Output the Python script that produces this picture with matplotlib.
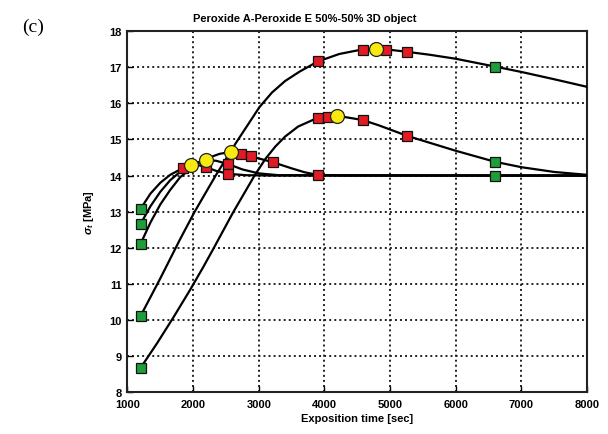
import matplotlib
matplotlib.use("Agg")
import matplotlib.pyplot as plt

# ---- data ----
# curve B: starts 10.1, peak ~17.5
b_x = [1200, 1500, 1797, 2024, 2343, 2650, 3011, 3200, 3400, 3620, 3896, 4225, 4503, 4785,
       4937, 5261, 5600, 5995, 6602, 7006, 7500, 8000]
b_y = [10.11, 11.15, 12.22, 13.0, 14.0, 14.9, 15.9, 16.3, 16.62, 16.88, 17.16, 17.37, 17.47, 17.51,
       17.5, 17.43, 17.35, 17.24, 17.02, 16.87, 16.67, 16.46]
# curve A: starts 8.67, peak ~15.65
a_x = [1200, 1450, 1700, 1950, 2150, 2302, 2606, 2935, 3100, 3250, 3400, 3600, 3896, 4186,
       4582, 4832, 5261, 5995, 6602, 7006, 7500, 8000]
a_y = [8.67, 9.35, 10.07, 10.82, 11.45, 11.95, 12.97, 14.0, 14.46, 14.8, 15.08, 15.36, 15.6, 15.66,
       15.54, 15.39, 15.1, 14.69, 14.38, 14.23, 14.1, 14.02]
# curve C: starts 13.08, peak ~14.29
c_x = [1200, 1350, 1500, 1650, 1847, 1970, 2100, 2201, 2350, 2530, 2800, 3200, 8000]
c_y = [13.08, 13.5, 13.8, 14.02, 14.21, 14.29, 14.28, 14.23, 14.13, 14.05, 14.01, 14.0, 14.0]
# curve D: starts 12.66, peak ~14.43
d_x = [1200, 1350, 1500, 1650, 1800, 2000, 2197, 2350, 2530, 2750, 3000, 3300, 8000]
d_y = [12.66, 13.15, 13.55, 13.87, 14.1, 14.33, 14.43, 14.41, 14.32, 14.17, 14.06, 14.01, 14.0]
# curve E: starts 12.11, peak ~14.66
e_x = [1200, 1350, 1500, 1650, 1800, 2000, 2200, 2400, 2578, 2733, 2885, 3050, 3213,
       3500, 3700, 3896, 4300, 8000]
e_y = [12.11, 12.7, 13.2, 13.6, 13.95, 14.25, 14.47, 14.6, 14.66, 14.61, 14.53, 14.45, 14.37,
       14.2, 14.09, 14.02, 14.0, 14.0]

green_x = [1200, 1200, 1200, 1200, 1200, 6602, 6602, 6602]
green_y = [13.08, 12.66, 12.11, 10.11, 8.67, 17.02, 14.38, 14.0]

red_x = [3896, 4582, 4937, 5261, 3896, 4047, 4582, 5261, 2733, 2885, 3213, 3896,
         2530, 1847, 2201, 2530]
red_y = [17.17, 17.48, 17.49, 17.43, 15.6, 15.62, 15.54, 15.1, 14.61, 14.53, 14.37, 14.02,
         14.32, 14.21, 14.23, 14.05]

yellow_x = [1970, 2197, 2578, 4186, 4785]
yellow_y = [14.29, 14.43, 14.66, 15.66, 17.51]

x_ticks = [1000, 2000, 3000, 4000, 5000, 6000, 7000, 8000]
y_ticks = [8, 9, 10, 11, 12, 13, 14, 15, 16, 17, 18]

title = "Peroxide A-Peroxide E 50%-50% 3D object"
xlabel = "Exposition time [sec]"
ylabel = r"$\sigma_t$ [MPa]"
panel = "(c)"

# ---- plotting ----
plt.rcParams["font.family"] = ["Liberation Sans", "DejaVu Sans"]
plt.rcParams["mathtext.fontset"] = "custom"
plt.rcParams["mathtext.it"] = "Liberation Sans:bold:italic"
plt.rcParams["mathtext.rm"] = "Liberation Sans:bold"

fig = plt.figure(figsize=(6.08, 4.35), dpi=100)
ax = fig.add_axes([0.2097, 0.0966, 0.7558, 0.8292])

for xs, ys in [(b_x, b_y), (a_x, a_y), (c_x, c_y), (d_x, d_y), (e_x, e_y)]:
    ax.plot(xs, ys, color="black", lw=1.6, zorder=3, solid_joinstyle="round")

ax.plot(green_x, green_y, ls="none", marker="s", ms=7, mfc="#1e9e3a", mec="#111111",
        mew=0.9, zorder=4)
ax.plot(red_x, red_y, ls="none", marker="s", ms=7, mfc="#e01b24", mec="#111111",
        mew=0.9, zorder=4)
ax.plot(yellow_x, yellow_y, ls="none", marker="o", ms=10, mfc="#f8ea10", mec="#222222",
        mew=0.9, zorder=5)

ax.set_xlim(1000, 8000)
ax.set_ylim(8, 18)
ax.set_xticks(x_ticks)
ax.set_yticks(y_ticks)
ax.set_xticklabels([str(v) for v in x_ticks])
ax.set_yticklabels([str(v) for v in y_ticks])
ax.grid(True, color="#222222", linestyle=(0, (1, 1.6)), linewidth=1.4)
ax.set_axisbelow(True)
ax.tick_params(direction="in", length=4, width=1, labelsize=8)
ax.tick_params(axis="x", pad=5)
ax.tick_params(axis="y", pad=4)
for lbl in ax.get_xticklabels() + ax.get_yticklabels():
    lbl.set_fontweight("bold")
for sp in ax.spines.values():
    sp.set_linewidth(1.5)
    sp.set_color("#222222")

fig.text(305 / 608, 1 - 19 / 435, title, fontsize=8, fontweight="bold",
         ha="center", va="center")
ax.set_xlabel(xlabel, fontsize=8, fontweight="bold", labelpad=3)
ax.set_ylabel(ylabel, fontsize=8, fontweight="bold", labelpad=10)

fig.text(22 / 608, 1 - 27 / 435, panel, fontsize=14, family="Liberation Serif",
         ha="left", va="center")

fig.savefig("out.png", dpi=100)
